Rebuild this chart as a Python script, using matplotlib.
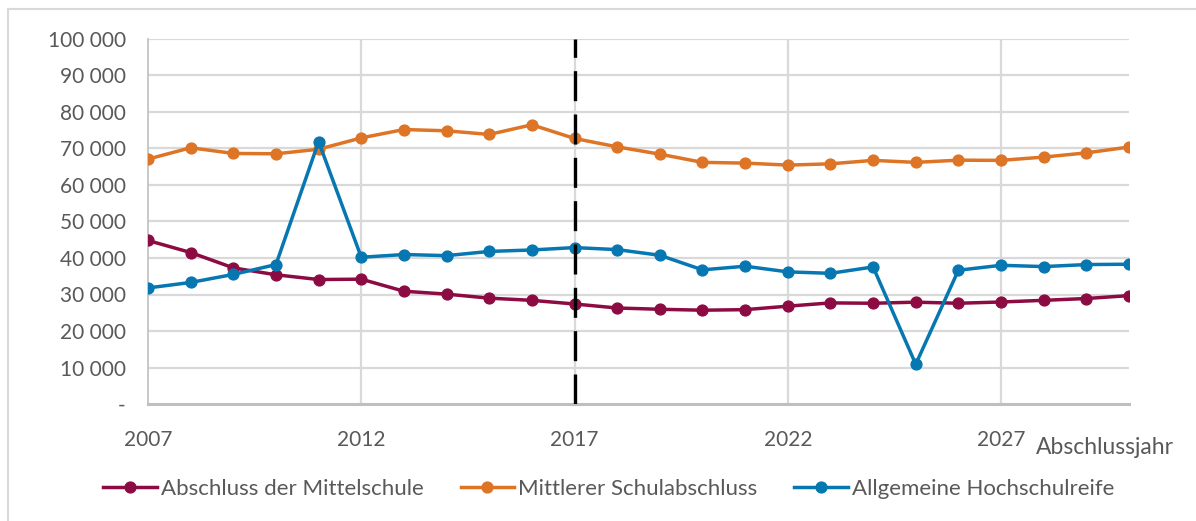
import numpy as np
import matplotlib
matplotlib.use("Agg")
import matplotlib.pyplot as plt
from matplotlib.lines import Line2D

plt.rcParams["font.family"] = ["Lato", "DejaVu Sans"]

years = np.arange(2007, 2031)
mittelschule = [44800, 41500, 37300, 35400, 34100, 34200, 30900, 30100, 29000, 28400,
                27400, 26300, 25950, 25700, 25850, 26800, 27700, 27600, 27900, 27600,
                27950, 28400, 28900, 29700]
mittlerer = [67100, 70200, 68650, 68550, 69800, 72900, 75200, 74850, 73850, 76500,
             72750, 70450, 68450, 66200, 66000, 65450, 65800, 66750, 66200, 66800,
             66750, 67650, 68800, 70400]
hochschulreife = [31800, 33300, 35500, 38200, 71900, 40200, 40950, 40650, 41800, 42200,
                  42850, 42300, 40750, 36750, 37750, 36200, 35800, 37550, 10900, 36650,
                  38000, 37650, 38200, 38300]
series = [("Abschluss der Mittelschule", mittelschule, "#8C0B42"),
          ("Mittlerer Schulabschluss", mittlerer, "#DD7426"),
          ("Allgemeine Hochschulreife", hochschulreife, "#0677B0")]
yticks = np.arange(0, 100001, 10000)
ytick_labels = ["-"] + [f"{v:,}".replace(",", " ") for v in yticks[1:]]
xticks = [2007, 2012, 2017, 2022, 2027]
cut_year = 2017

W, H = 1196, 521
fig = plt.figure(figsize=(W / 100, H / 100), dpi=100)
ax = fig.add_axes([148 / W, 1 - 404 / H, (1129 - 148) / W, (404 - 39) / H])

grey = "#595959"
for y in yticks[1:]:
    ax.axhline(y, color="#D9D9D9", lw=1.6, zorder=0)
for x in xticks[1:]:
    ax.axvline(x, color="#D9D9D9", lw=1.6, zorder=0)

for name, vals, c in series:
    ax.plot(years, vals, color=c, lw=2.5, marker="o", ms=7.8, label=name, zorder=3)

ax.axvline(cut_year, color="black", lw=2.4, dashes=(9, 4), zorder=4)

ax.set_xlim(2007, 2030)
ax.set_ylim(0, 100000)
ax.set_yticks(yticks)
ax.set_yticklabels(ytick_labels)
ax.set_xticks(xticks)
ax.tick_params(length=0, labelsize=15, colors=grey)
ax.tick_params(axis="x", pad=19)
ax.tick_params(axis="y", pad=16)
for s in ["top", "right"]:
    ax.spines[s].set_visible(False)
ax.spines["left"].set_color("#BFBFBF")
ax.spines["left"].set_linewidth(1.2)
ax.spines["bottom"].set_color("#BFBFBF")
ax.spines["bottom"].set_linewidth(2.2)

fig.text(1105 / W, 1 - 447 / H, "Abschlussjahr", ha="center", va="center",
         fontsize=16.5, color=grey)

leg = fig.legend(loc="center", bbox_to_anchor=(609 / W, 1 - 489 / H), ncol=3,
                 frameon=False, fontsize=16, handlelength=2.4, handletextpad=0.2,
                 columnspacing=1.65)
for t in leg.get_texts():
    t.set_color(grey)

# chart frame
fig.add_artist(Line2D([8 / W, 8 / W], [0, 1 - 9 / H], transform=fig.transFigure,
                      color="#D9D9D9", lw=1.5))
fig.add_artist(Line2D([8 / W, 1], [1 - 9 / H, 1 - 9 / H], transform=fig.transFigure,
                      color="#D9D9D9", lw=1.5))

fig.savefig("out.png", dpi=100)
